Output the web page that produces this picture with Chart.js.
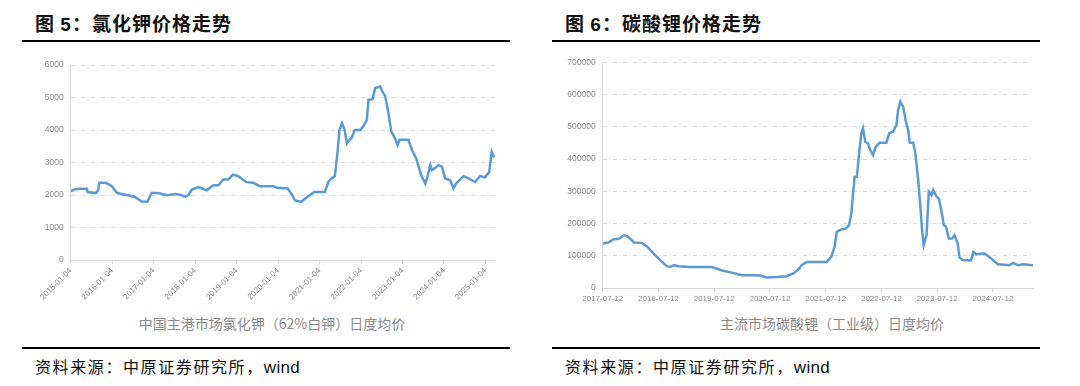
<!DOCTYPE html>
<html>
<head>
<meta charset="utf-8">
<script src="https://cdn.jsdelivr.net/npm/chart.js@4.4.1/dist/chart.umd.min.js"></script>
<style>
  html, body { margin: 0; padding: 0; background: #fff; }
  body { width: 1080px; height: 386px; position: relative; overflow: hidden; font-family: "Noto Sans CJK SC", sans-serif; }
  .title { position: absolute; top: 12px; font-size: 19px; font-weight: bold; color: #111; line-height: 22px; white-space: nowrap; letter-spacing: 1px; }
  .title .num { font-family: "Liberation Sans", Arial, sans-serif; font-weight: bold; }
  .rule { position: absolute; height: 2px; background: #000; }
  .src { position: absolute; top: 356px; font-size: 16px; color: #111; line-height: 20px; white-space: nowrap; letter-spacing: 1.6px; }
  .src .en { font-family: "Liberation Sans", Arial, sans-serif; letter-spacing: 0.3px; font-size: 17px; }
  .axt { position: absolute; top: 313px; font-size: 14px; color: #8a8a8a; line-height: 20px; white-space: nowrap; transform: translateX(-50%); }
  .cv { position: absolute; }
</style>
</head>
<body>
<div class="title" style="left:35px">图 <span class="num">5</span>：氯化钾价格走势</div>
<div class="rule" style="left:22px; width:488px; top:40px"></div>
<div class="title" style="left:565px">图 <span class="num">6</span>：碳酸锂价格走势</div>
<div class="rule" style="left:552px; width:488px; top:40px"></div>

<div class="cv" style="left:0px; top:50px; width:520px; height:255px"><canvas id="c1"></canvas></div>
<div class="cv" style="left:540px; top:50px; width:540px; height:260px"><canvas id="c2"></canvas></div>

<div class="axt" style="left:272px">中国主港市场氯化钾（62%白钾）日度均价</div>
<div class="axt" style="left:832px">主流市场碳酸锂（工业级）日度均价</div>

<div class="rule" style="left:22px; width:488px; top:347px"></div>
<div class="src" style="left:35px">资料来源：中原证券研究所，<span class="en">wind</span></div>
<div class="rule" style="left:552px; width:488px; top:347px"></div>
<div class="src" style="left:565px">资料来源：中原证券研究所，<span class="en">wind</span></div>

<script>
// ---- Chart 5: potassium chloride (time in fractional years) ----
const kclTime = [2015.00,2015.10,2015.20,2015.39,2015.41,2015.61,2015.66,2015.69,2015.85,2015.99,
  2016.12,2016.35,2016.55,2016.71,2016.85,2016.95,2017.11,2017.32,2017.52,2017.64,2017.76,2017.84,2017.92,
  2018.08,2018.28,2018.44,2018.56,2018.68,2018.80,2018.91,2019.04,2019.24,2019.40,2019.56,2019.89,2019.97,
  2020.23,2020.33,2020.41,2020.55,2020.73,2020.87,2021.13,2021.21,2021.29,2021.37,2021.43,2021.48,2021.54,
  2021.60,2021.66,2021.72,2021.77,2021.85,2021.98,2022.06,2022.14,2022.18,2022.28,2022.34,2022.46,2022.53,
  2022.58,2022.66,2022.73,2022.82,2022.88,2022.93,2023.14,2023.23,2023.33,2023.45,2023.55,2023.60,2023.67,
  2023.71,2023.79,2023.87,2023.95,2024.03,2024.15,2024.23,2024.29,2024.39,2024.47,2024.59,2024.75,2024.87,
  2024.99,2025.09,2025.15,2025.21];
const kclPrice = [2120,2170,2190,2190,2090,2060,2150,2375,2375,2270,
  2060,2000,1940,1800,1790,2060,2060,1990,2030,2010,1940,2000,2165,
  2240,2145,2300,2300,2480,2480,2625,2580,2395,2375,2270,2270,2220,
  2200,2010,1830,1790,1960,2095,2095,2400,2510,2580,3280,4000,4210,
  4025,3590,3690,3745,4000,4000,4125,4310,4930,4950,5290,5340,5140,
  5055,4520,3950,3745,3540,3700,3700,3385,3125,2610,2350,2560,2920,
  2765,2840,2920,2870,2510,2455,2200,2350,2475,2580,2510,2400,2580,
  2545,2710,3330,3160];
const kclTickPos = [2015,2016,2017,2018,2019,2020,2021,2022,2023,2024,2025];
const kclTickLabels = ["2015-01-04","2016-01-04","2017-01-04","2018-01-04","2019-01-04","2020-01-04",
  "2021-01-04","2022-01-04","2023-01-04","2024-01-04","2025-01-04"];

// ---- Chart 6: lithium carbonate (time in fractional years) ----
const liTime = [2017.53,2017.63,2017.72,2017.83,2017.91,2017.99,2018.09,2018.23,2018.32,2018.44,2018.56,
  2018.68,2018.74,2018.81,2018.89,2019.09,2019.21,2019.33,2019.48,2019.57,2019.69,2019.87,2020.02,2020.23,
  2020.35,2020.47,2020.65,2020.83,2020.95,2021.04,2021.10,2021.19,2021.55,2021.63,2021.69,2021.73,2021.81,
  2021.89,2021.95,2021.99,2022.05,2022.09,2022.13,2022.17,2022.20,2022.24,2022.29,2022.33,2022.38,2022.43,
  2022.50,2022.62,2022.67,2022.74,2022.80,2022.83,2022.87,2022.92,2022.97,2023.01,2023.04,2023.10,2023.14,
  2023.19,2023.23,2023.26,2023.29,2023.34,2023.38,2023.43,2023.46,2023.52,2023.56,2023.61,2023.65,2023.69,
  2023.74,2023.80,2023.84,2023.90,2023.93,2023.99,2024.14,2024.18,2024.23,2024.38,2024.50,2024.62,2024.83,
  2024.89,2024.98,2025.07,2025.25];
const liPrice = [138000,141000,150600,153700,164000,158700,141300,140000,129800,107100,86300,
  67700,65500,70800,67700,65500,64900,65500,65500,60500,53200,47000,39800,39800,
  38900,32600,34000,36600,45000,57400,70800,81000,81000,96600,127600,174200,181600,
  184000,195000,231000,345000,345000,417700,479800,495300,453700,448800,428000,412000,438000,
  450600,450600,479800,484800,505600,552000,578000,562400,515800,490000,450600,450600,417700,
  334800,251900,179500,132900,164000,298400,288000,303700,283000,278000,236300,195000,190000,
  153700,153700,164000,138000,94700,86300,86300,112100,105000,107000,91600,73900,70800,
  78000,70800,73900,70800];
const liTickPos = [2017.53,2018.53,2019.53,2020.53,2021.53,2022.53,2023.53,2024.53];
const liTickLabels = ["2017-07-12","2018-07-12","2019-07-12","2020-07-12","2021-07-12","2022-07-12",
  "2023-07-12","2024-07-12"];

const GRID = '#d9d9d9';
const TICKC = '#8a8a8a';

function makeChart(id, times, values, tickPos, tickLabels, cfg) {
  const data = times.map((t, i) => ({ x: t, y: values[i] }));
  return new Chart(document.getElementById(id), {
    type: 'line',
    data: { datasets: [{ data, borderColor: '#5b9bd5', borderWidth: 2.5, pointRadius: 0, tension: 0, fill: false }] },
    options: {
      responsive: true, maintainAspectRatio: false, animation: false,
      layout: { padding: cfg.padding },
      plugins: { legend: { display: false }, tooltip: { enabled: false } },
      scales: {
        x: {
          type: 'linear', min: cfg.xmin, max: cfg.xmax,
          afterBuildTicks: s => { s.ticks = tickPos.map(v => ({ value: v })); },
          afterFit: s => { s.height = cfg.xh; },
          ticks: { autoSkip: false, minRotation: cfg.rot, maxRotation: cfg.rot, padding: cfg.xpad,
                   color: TICKC, font: { family: 'Liberation Sans', size: 8 },
                   callback: (v, i) => tickLabels[i] },
          grid: { drawOnChartArea: false, drawTicks: true, tickLength: 4, color: GRID, lineWidth: 1 },
          border: { display: true, color: GRID, width: 1 }
        },
        y: {
          min: 0, max: cfg.ymax,
          afterBuildTicks: s => { const t = []; for (let v = 0; v <= cfg.ymax; v += cfg.ystep) t.push({ value: v }); s.ticks = t; },
          afterFit: s => { s.width = cfg.yw; },
          ticks: { padding: 7, color: TICKC, font: { family: 'Liberation Sans', size: 8.5 }, callback: v => String(v) },
          grid: { drawTicks: false, lineWidth: 1, color: c => (c.tick && c.tick.value === 0) ? 'rgba(0,0,0,0)' : GRID },
          border: { display: true, color: GRID, width: 1, dash: [4, 2.5, 1, 2.5] }
        }
      }
    }
  });
}

makeChart('c1', kclTime, kclPrice, kclTickPos, kclTickLabels,
  { padding: { left: 0, top: 15, right: 25, bottom: 0 }, xmin: 2015.0, xmax: 2025.23, xh: 45, rot: 45, xpad: 2,
    ymax: 6000, ystep: 1000, yw: 70.7 });
makeChart('c2', liTime, liPrice, liTickPos, liTickLabels,
  { padding: { left: 0, top: 12.3, right: 47, bottom: 0 }, xmin: 2017.53, xmax: 2025.25, xh: 22, rot: 0, xpad: 2,
    ymax: 700000, ystep: 100000, yw: 62.7 });
</script>
</body>
</html>
